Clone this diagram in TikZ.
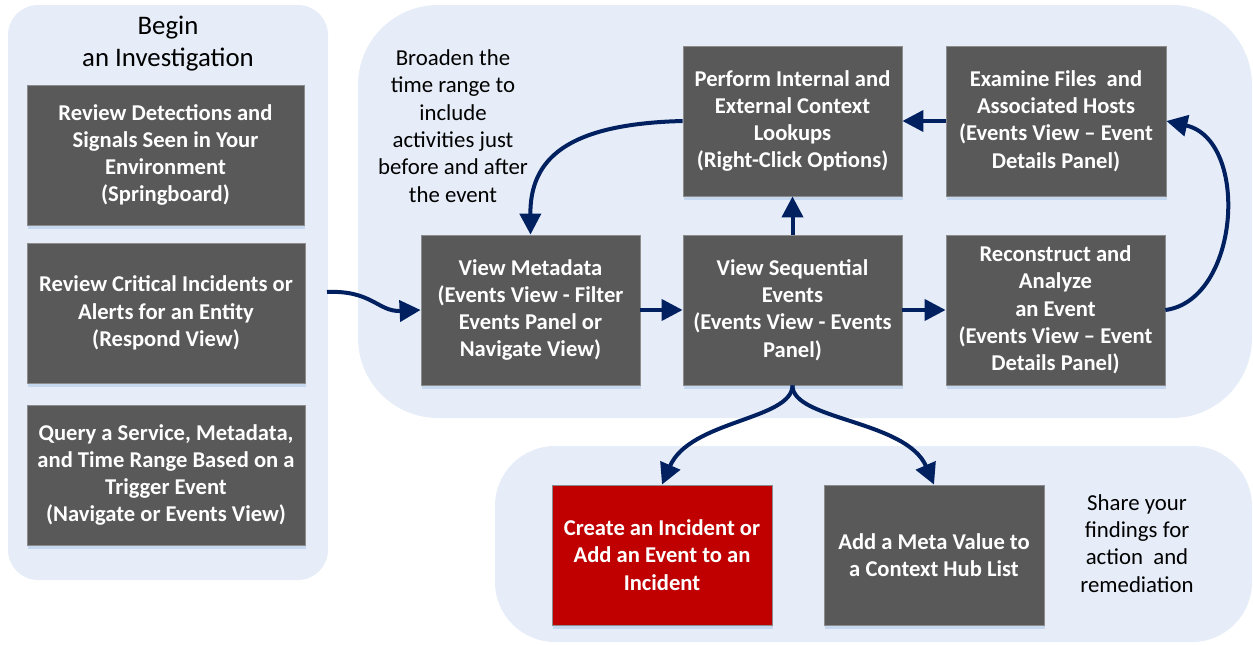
\documentclass[tikz,border=0pt]{standalone}
\usepackage{fontspec}
\setmainfont{Carlito}
\usetikzlibrary{arrows.meta,shadows}
\definecolor{panelc}{RGB}{230,237,248}
\definecolor{shadowc}{RGB}{197,216,240}
\definecolor{boxc}{RGB}{89,89,89}
\definecolor{boxline}{RGB}{140,140,140}
\definecolor{redc}{RGB}{192,0,0}
\definecolor{navy}{RGB}{0,32,96}
\tikzset{
  stepbox/.style={rectangle, fill=boxc, draw=boxline, line width=0.8pt, text=white,
    align=center, inner sep=0pt, font=\bfseries\fontsize{22.6}{27.3}\selectfont,
    drop shadow={shadow xshift=1pt, shadow yshift=-4pt, fill=shadowc, opacity=1}},
  redbox/.style={stepbox, fill=redc},
  panel/.style={fill=panelc},
  note/.style={align=center, inner sep=0pt, text=black, font=\fontsize{22.8}{27.3}\selectfont},
  flow/.style={draw=navy, line width=4pt, -{Triangle[length=21pt,width=21pt]}},
}
\begin{document}
\begin{tikzpicture}[x=1pt,y=-1pt]
\useasboundingbox (0,0) rectangle (1253,645);
% panels
\fill[panel, rounded corners=30pt] (8,5) rectangle (328,580);
\fill[panel, rounded corners=80pt] (358,5) rectangle (1252,418);
\fill[panel, rounded corners=60pt] (495,446) rectangle (1252,642);
% texts
\node[note, font=\fontsize{26.8}{32}\selectfont] (title) at (168,44) {Begin\\an Investigation};
\node[note] (broaden) at (453,126) {Broaden the\\time range to\\include\\activities just\\before and after\\the event};
\node[note] (share) at (1137,543.5) {Share your\\findings for\\action~ and\\remediation};
% left boxes
\node[stepbox, minimum width=277pt, minimum height=140pt] (b1) at (165.5,155) {Review Detections and\\Signals Seen in Your\\Environment\\(Springboard)};
\node[stepbox, minimum width=278pt, minimum height=140pt] (b2) at (166,313) {Review Critical Incidents or\\Alerts for an Entity\\(Respond View)};
\node[stepbox, minimum width=278pt, minimum height=140pt] (b3) at (166,475) {Query a Service, Metadata,\\and Time Range Based on a\\Trigger Event\\(Navigate or Events View)};
% main boxes
\node[stepbox, minimum width=219pt, minimum height=150pt] (meta) at (530.5,310) {View Metadata\\(Events View - Filter\\Events Panel or\\Navigate View)};
\node[stepbox, minimum width=219pt, minimum height=150pt] (seq) at (792.5,310) {View Sequential\\Events\\(Events View - Events\\Panel)};
\node[stepbox, minimum width=219pt, minimum height=150pt] (recon) at (1055.5,310) {Reconstruct and\\Analyze\\an Event\\(Events View -- Event\\Details Panel)};
\node[stepbox, minimum width=219pt, minimum height=150pt] (perf) at (792.5,121) {Perform Internal and\\External Context\\Lookups\\(Right-Click Options)};
\node[stepbox, minimum width=220pt, minimum height=150pt] (exam) at (1056,121) {Examine Files~ and\\Associated Hosts\\(Events View -- Event\\Details Panel)};
% bottom boxes
\node[redbox, minimum width=220pt, minimum height=140pt] (inc) at (662,555) {Create an Incident or\\Add an Event to an\\Incident};
\node[stepbox, minimum width=220pt, minimum height=140pt] (addm) at (934,555) {Add a Meta Value to\\a Context Hub List};
% connectors
\coordinate (lp) at (327,292);
\draw[flow] (lp) .. controls (372,290) and (378,312) .. (meta.west);
\draw[flow] (meta.east) -- (seq.west);
\draw[flow] (seq.east) -- (recon.west);
\draw[flow] (seq.north) -- (perf.south);
\draw[flow] (exam.west) -- (perf.west -| perf.east);
\draw[flow] (perf.west) .. controls (565,124) and (530,160) .. (meta.north);
\draw[flow] (recon.east) .. controls (1240,300) and (1250,140) .. (exam.east);
\draw[flow] (seq.south) .. controls (792,420) and (690,420) .. (inc.north);
\draw[flow] (seq.south) .. controls (792,420) and (906,420) .. (addm.north);
\end{tikzpicture}
\end{document}
